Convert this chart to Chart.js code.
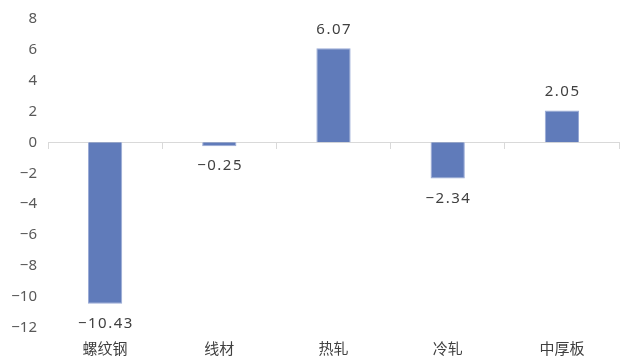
<!DOCTYPE html>
<html><head><meta charset="utf-8">
<script src="https://cdn.jsdelivr.net/npm/chart.js@4/dist/chart.umd.min.js"></script>
<style>html,body{margin:0;padding:0;background:#fff}#wrap{width:621px;height:356px}</style>
</head><body><div id="wrap"><canvas id="c" width="621" height="356"></canvas></div>
<script>
const categories = ['螺纹钢', '线材', '热轧', '冷轧', '中厚板'];
const values = [-10.43, -0.25, 6.07, -2.34, 2.05];
const valueLabels = ['-10.43', '-0.25', '6.07', '-2.34', '2.05'];
const yMin = -12, yMax = 8, yStep = 2;

const FONT = '"Noto Sans CJK SC", "Noto Sans", sans-serif';

const labelPlugin = {
  id: 'valueLabels',
  afterDatasetsDraw(chart) {
    const ctx = chart.ctx;
    const meta = chart.getDatasetMeta(0);
    ctx.save();
    ctx.font = '15px "Noto Sans", sans-serif';
    if ('letterSpacing' in ctx) ctx.letterSpacing = '1.5px';
    ctx.fillStyle = '#404040';
    ctx.textAlign = 'center';
    ctx.textBaseline = 'middle';
    meta.data.forEach((bar, i) => {
      const v = values[i];
      const y = v >= 0 ? bar.y - 19 : bar.y + 20;
      ctx.fillText(valueLabels[i].replace('-', '−'), bar.x + 0.75, y);
    });
    ctx.restore();
  }
};

new Chart(document.getElementById('c'), {
  type: 'bar',
  data: {
    labels: categories,
    datasets: [{
      data: values,
      backgroundColor: '#607bba',
      borderColor: '#9aabd6',
      borderWidth: 1,
      categoryPercentage: 1,
      barPercentage: 0.3
    }]
  },
  options: {
    responsive: false,
    animation: false,
    layout: { padding: { top: 12, right: 2, left: 0, bottom: 0 } },
    plugins: { legend: { display: false }, tooltip: { enabled: false } },
    scales: {
      x: {
        position: 'bottom',
        grid: { display: false, drawTicks: false },
        border: { display: false },
        ticks: { color: '#404040', font: { size: 15, family: FONT }, padding: 11 },
        afterFit(s) { s.height = 28; }
      },
      x2: {
        type: 'category',
        labels: categories,
        position: { y: 0 },
        offset: true,
        grid: { offset: true, drawOnChartArea: false, drawTicks: true, tickLength: 6, color: '#d9d9d9', lineWidth: 1 },
        border: { display: true, color: '#d9d9d9', width: 1 },
        ticks: { display: false }
      },
      y: {
        min: yMin, max: yMax,
        grid: { display: false, drawTicks: false },
        border: { display: false },
        ticks: {
          stepSize: yStep,
          color: '#595959',
          padding: 11,
          font: { size: 15, family: '"Noto Sans", sans-serif', lineHeight: 1 },
          callback: v => String(v).replace('-', '−')
        },
        afterFit(s) { s.width = 48; }
      }
    }
  },
  plugins: [labelPlugin]
});
</script></body></html>
